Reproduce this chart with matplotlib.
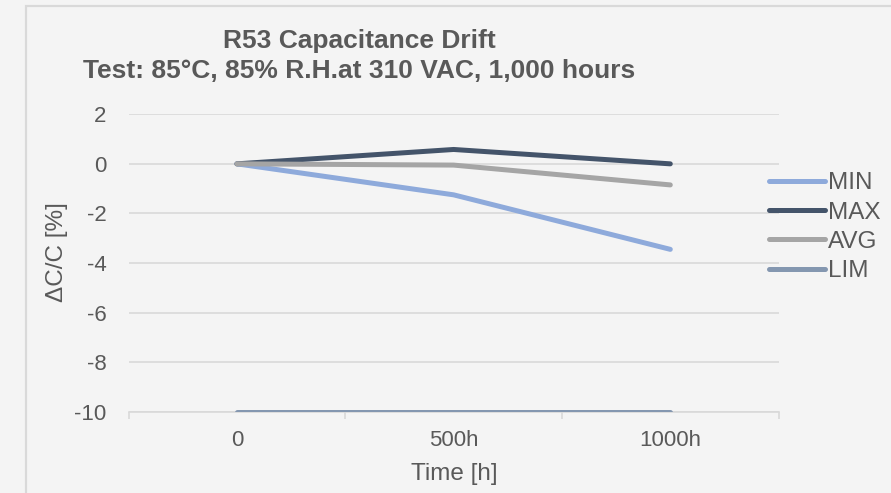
import matplotlib.pyplot as plt
from matplotlib.patches import Rectangle

plt.rcParams['font.family'] = ['Liberation Sans', 'DejaVu Sans']
plt.rcParams['axes.unicode_minus'] = False

categories = ["0", "500h", "1000h"]
min_vals = [0.0, -1.25, -3.45]
max_vals = [0.0, 0.58, 0.0]
avg_vals = [0.0, -0.05, -0.85]
lim_vals = [-10.0, -10.0, -10.0]

series = [
    ("MIN", min_vals, "#8eaadb"),
    ("MAX", max_vals, "#44546a"),
    ("AVG", avg_vals, "#a5a5a5"),
    ("LIM", lim_vals, "#8497b0"),
]

text_col = "#595959"
grid_col = "#d9d9d9"
bg = "#f4f4f4"

fig = plt.figure(figsize=(8.91, 4.93), dpi=100, facecolor=bg)
ax = fig.add_axes([0.1443, 0.1649, 0.7296, 0.6033], facecolor=bg)

# chart frame (cropped at right / bottom)
fig.patches.append(Rectangle((26 / 891, -0.1), 1.0, 1.0 - 6 / 493 + 0.1,
                             transform=fig.transFigure, fill=False,
                             edgecolor=grid_col, linewidth=1.6, zorder=0))

x = list(range(len(categories)))
for name, vals, col in series:
    ax.plot(x, vals, color=col, linewidth=3.6, solid_capstyle="round",
            solid_joinstyle="round", label=name, zorder=3)

ax.set_xlim(-0.5, 2.5)
ax.set_ylim(-10, 2)
ax.set_yticks(range(-10, 3, 2))
ax.set_xticks(x)
ax.set_xticklabels(categories)
ax.set_xticks([-0.5, 0.5, 1.5, 2.5], minor=True)

ax.grid(axis="y", color=grid_col, linewidth=1.2, zorder=0)
for s in ["top", "right", "left"]:
    ax.spines[s].set_visible(False)
ax.spines["bottom"].set_color(grid_col)
ax.spines["bottom"].set_linewidth(1.2)

ax.tick_params(axis="y", length=0, labelsize=16, labelcolor=text_col, pad=16)
ax.tick_params(axis="x", which="major", length=0, labelsize=16,
               labelcolor=text_col, pad=13)
ax.tick_params(axis="x", which="minor", length=5, color=grid_col, width=1.2)

fig.text(454 / 891, 1 - 474 / 493, "Time [h]", ha="center", va="center",
         fontsize=17.5, color=text_col)
fig.text(57 / 891, 1 - 252 / 493, "ΔC/C [%]", ha="center", va="center",
         rotation=90, fontsize=17.5, color=text_col)

fig.text(359 / 891, 1 - 41 / 493, "R53 Capacitance Drift", ha="center",
         va="center", fontsize=19, fontweight="bold", color=text_col)
fig.text(359 / 891, 1 - 71 / 493, "Test: 85°C, 85% R.H.at 310 VAC, 1,000 hours",
         ha="center", va="center", fontsize=19, fontweight="bold",
         color=text_col)

leg = ax.legend(loc="center left", bbox_to_anchor=(0.985, 0.62), frameon=False,
                fontsize=17.5, labelcolor=text_col, handlelength=2.3,
                handletextpad=0.15, labelspacing=0.3, borderaxespad=0,
                borderpad=0)

fig.savefig("out.png", dpi=100, facecolor=bg)
